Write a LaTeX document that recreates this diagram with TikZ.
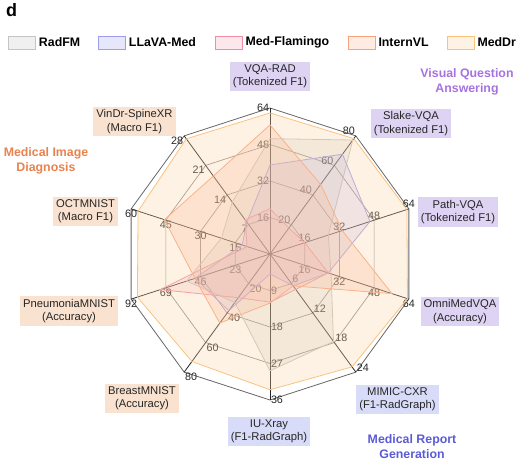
\documentclass[tikz,border=0pt]{standalone}
\usepackage{fontspec}
\setmainfont{Liberation Sans}
\usetikzlibrary{positioning}

\definecolor{radfmline}{HTML}{C4C4C4}
\definecolor{radfmfill}{HTML}{B0B0B0}
\definecolor{llavaline}{HTML}{9D9DEB}
\definecolor{llavafill}{HTML}{A0A0F0}
\definecolor{flamline}{HTML}{F28CA4}
\definecolor{flamfill}{HTML}{F5A0B4}
\definecolor{internline}{HTML}{F9A27E}
\definecolor{internfill}{HTML}{FBAE8C}
\definecolor{meddrline}{HTML}{FBC27E}
\definecolor{meddrfill}{HTML}{FCD4A4}
\definecolor{vqabox}{HTML}{DFD3F4}
\definecolor{repbox}{HTML}{D9DCF8}
\definecolor{diagbox}{HTML}{F9E2D0}
\definecolor{vqatext}{HTML}{A672E0}
\definecolor{reptext}{HTML}{5B5BD6}
\definecolor{diagtext}{HTML}{E8824E}

\def\rad{146}

% 画一个模型的多边形（10 个轴上的比例）
\newcommand{\radarpoly}[2]{%
  \foreach \v [count=\i from 0] in {#2}
    \coordinate (#1\i) at ({90-36*\i}:{\v*\rad});
  \draw[#1] (#10) -- (#11) -- (#12) -- (#13) -- (#14) -- (#15)
    -- (#16) -- (#17) -- (#18) -- (#19) -- cycle;
}

\begin{document}
\begin{tikzpicture}[x=1bp,y=1bp,
  tick/.style={font=\fontsize{10.8}{12}\selectfont, text=black!85, inner sep=0.8bp},
  axlab/.style={font=\fontsize{11.3}{13.5}\selectfont, align=center, text=black!85, inner sep=3bp},
  legbox/.style={draw, minimum width=27bp, minimum height=13bp, inner sep=0pt, line width=0.6bp},
  legtext/.style={font=\bfseries\fontsize{12.4}{14}\selectfont, inner sep=0pt, anchor=west},
  cattext/.style={font=\bfseries\fontsize{12.4}{15}\selectfont, align=center},
  radfm/.style={draw=radfmline, fill=radfmfill, fill opacity=0.18, line width=0.8bp},
  llava/.style={draw=llavaline, fill=llavafill, fill opacity=0.22, line width=0.8bp},
  flam/.style={draw=flamline, fill=flamfill, fill opacity=0.22, line width=0.8bp},
  intern/.style={draw=internline, fill=internfill, fill opacity=0.25, line width=0.8bp},
  meddr/.style={draw=meddrline, fill=meddrfill, fill opacity=0.3, line width=0.8bp}]
\useasboundingbox (-270,-219) rectangle (251,254);

% 网格：内圈与外圈
\foreach \k in {1,2,3}
  \draw[black!45, line width=0.7bp] (90:\k*\rad/4) \foreach \i in {1,...,9} {-- ({90-36*\i}:\k*\rad/4)} -- cycle;
\draw[black!60, line width=0.8bp] (90:\rad) \foreach \i in {1,...,9} {-- ({90-36*\i}:\rad)} -- cycle;
% 轴线
\foreach \i in {0,...,9}
  \draw[black!85, line width=0.8bp] (0,0) -- ({90-36*\i}:\rad);

% 刻度标签
\foreach \i/\a/\m in {0/east/16, 1/south east/20, 2/south/16, 3/north/16, 4/south west/6,
                      5/west/9, 6/north west/20, 7/north/23, 8/north/15, 9/north east/7}
  \foreach \k in {1,...,4} {
    \pgfmathtruncatemacro\val{\k*\m}
    \node[tick, anchor=\a] (t\i\k) at ({90-36*\i}:{\k*\rad/4}) {\val};
  }

% 各模型
\radarpoly{radfm}{0.79,0.965,0.42,0.44,0.74,0.8,0.41,0.6,0.35,0.44}
\radarpoly{llava}{0.61,0.845,0.72,0.42,0.27,0.137,0.48,0.54,0.2,0.27}
\radarpoly{flam}{0.31,0.22,0.25,0.42,0.3,0.33,0.37,0.79,0.165,0.29}
\radarpoly{intern}{0.884,0.59,0.52,0.878,0.27,0.336,0.585,0.54,0.76,0.66}
\radarpoly{meddr}{0.966,0.977,0.986,0.99,0.956,0.93,0.91,0.955,0.95,0.975}

% 轴名称
\node[axlab, fill=vqabox] (vqarad) at (0,177.5) {VQA-RAD\\(Tokenized F1)};
\node[axlab, fill=vqabox] (slake) at (141,130.5) {Slake-VQA\\(Tokenized F1)};
\node[axlab, fill=vqabox] (pathvqa) at (188,42) {Path-VQA\\(Tokenized F1)};
\node[axlab, fill=vqabox] (omni) at (190,-57.5) {OmniMedVQA\\(Accuracy)};
\node[axlab, fill=repbox] (mimic) at (127.5,-145.5) {MIMIC-CXR\\(F1-RadGraph)};
\node[axlab, fill=repbox] (iuxray) at (-1,-177.5) {IU-Xray\\(F1-RadGraph)};
\node[axlab, fill=diagbox] (breast) at (-128,-144.5) {BreastMNIST\\(Accuracy)};
\node[axlab, fill=diagbox] (pneu) at (-201,-57) {PneumoniaMNIST\\(Accuracy)};
\node[axlab, fill=diagbox] (oct) at (-184.5,42.5) {OCTMNIST\\(Macro F1)};
\node[axlab, fill=diagbox] (vindr) at (-135.5,132.5) {VinDr-SpineXR\\(Macro F1)};

% 任务类别
\node[cattext, text=vqatext] (catvqa) at (197,172) {Visual Question\\Answering};
\node[cattext, text=reptext] (catrep) at (142,-193) {Medical Report\\Generation};
\node[cattext, text=diagtext] (catdiag) at (-224,93) {Medical Image\\Diagnosis};

% 图例
\node[legbox, draw=radfmline, fill=black!6] (lg1) at (-248,211.5) {};
\node[legtext, right=3bp of lg1] (lt1) {RadFM};
\node[legbox, draw=llavaline, fill=llavafill!25] (lg2) at (-158,211.5) {};
\node[legtext, right=3bp of lg2] (lt2) {LLaVA-Med};
\node[legbox, draw=flamline, fill=flamfill!25] (lg3) at (-41.5,211.5) {};
\node[legtext, right=3bp of lg3] (lt3) {Med-Flamingo};
\node[legbox, draw=internline, fill=internfill!25] (lg4) at (91.5,211.5) {};
\node[legtext, right=3bp of lg4] (lt4) {InternVL};
\node[legbox, draw=meddrline, fill=meddrfill!30] (lg5) at (190.5,211.5) {};
\node[legtext, right=3bp of lg5] (lt5) {MedDr};

% 子图编号
\node[font=\bfseries\fontsize{18}{20}\selectfont, inner sep=0pt, anchor=base west] (panel) at (-264,237) {d};
\end{tikzpicture}
\end{document}
